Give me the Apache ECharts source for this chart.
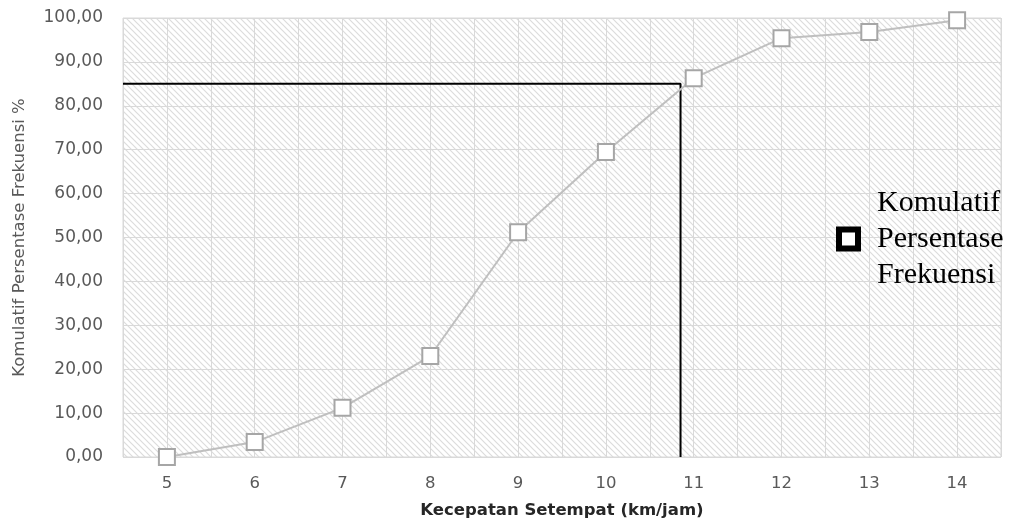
<!DOCTYPE html>
<html>
<head>
<meta charset="utf-8">
<script src="https://cdn.jsdelivr.net/npm/echarts@6/dist/echarts.min.js"></script>
<style>
  html, body { margin: 0; padding: 0; background: #fff; }
  #chart { width: 1018px; height: 526px; }
</style>
</head>
<body>
<div id="chart"></div>
<script>
// kecepatan setempat (km/jam)
var kecepatan = [5, 6, 7, 8, 9, 10, 11, 12, 13, 14];
// komulatif persentase frekuensi (%)
var komulatif = [0, 3.4, 11.2, 23.0, 51.2, 69.5, 86.3, 95.4, 96.8, 99.5];
// garis persentil 85
var garisP85 = [[4.5, 85], [10.85, 85], [10.85, 0]];
var yTicks = [0, 10, 20, 30, 40, 50, 60, 70, 80, 90, 100];

// pola arsir diagonal untuk latar plot
function buatArsir() {
    var c = document.createElement('canvas');
    c.width = 6;
    c.height = 6;
    var ctx = c.getContext('2d');
    ctx.fillStyle = '#ffffff';
    ctx.fillRect(0, 0, 6, 6);
    ctx.strokeStyle = '#dcdcdc';
    ctx.lineWidth = 1.2;
    ctx.beginPath();
    ctx.moveTo(-1, -1); ctx.lineTo(7, 7);
    ctx.moveTo(-1, 5); ctx.lineTo(1, 7);
    ctx.moveTo(5, -1); ctx.lineTo(7, 1);
    ctx.stroke();
    return c;
}

var namaSeri = 'Komulatif\nPersentase\nFrekuensi';
var chart = echarts.init(document.getElementById('chart'));

var option = {
    animation: false,
    grid: {
        left: 123,
        right: 17,
        top: 18,
        bottom: 69,
        show: true,
        backgroundColor: { image: buatArsir(), repeat: 'repeat' },
        borderColor: '#d9d9d9',
        borderWidth: 1
    },
    legend: {
        left: 831,
        top: 180,
        orient: 'vertical',
        icon: 'rect',
        itemWidth: 19,
        itemHeight: 19,
        data: [{
            name: namaSeri,
            itemStyle: { color: '#ffffff', borderColor: '#000000', borderWidth: 6 }
        }],
        textStyle: {
            fontFamily: 'Liberation Serif',
            fontSize: 30,
            lineHeight: 36,
            color: '#000',
            padding: [0, 0, 0, 14]
        }
    },
    xAxis: {
        type: 'value',
        min: 4.5,
        max: 14.5,
        interval: 0.5,
        name: 'Kecepatan Setempat (km/jam)',
        nameLocation: 'middle',
        nameGap: 45,
        nameTextStyle: {
            fontFamily: 'DejaVu Sans',
            fontWeight: 'bold',
            fontSize: 16.5,
            color: '#262626'
        },
        axisLine: { show: false },
        axisTick: { show: false },
        axisLabel: {
            margin: 18,
            fontFamily: 'DejaVu Sans',
            fontSize: 16.5,
            color: '#595959',
            formatter: function (v) {
                return kecepatan.indexOf(v) >= 0 ? String(v) : '';
            }
        },
        splitLine: { show: true, lineStyle: { color: '#d9d9d9', width: 1 } }
    },
    yAxis: {
        type: 'value',
        min: yTicks[0],
        max: yTicks[yTicks.length - 1],
        interval: 10,
        name: 'Komulatif Persentase Frekuensi %',
        nameLocation: 'middle',
        nameGap: 95,
        nameTextStyle: {
            fontFamily: 'DejaVu Sans',
            fontSize: 16.5,
            color: '#595959'
        },
        axisLine: { show: false },
        axisTick: { show: false },
        axisLabel: {
            margin: 20,
            fontFamily: 'DejaVu Sans',
            fontSize: 17,
            color: '#595959',
            formatter: function (v) {
                return v.toFixed(2).replace('.', ',');
            }
        },
        splitLine: { show: true, lineStyle: { color: '#d9d9d9', width: 1 } }
    },
    series: [{
        name: 'p85',
        type: 'line',
        data: garisP85,
        symbol: 'none',
        silent: true,
        lineStyle: { color: '#000000', width: 2 },
        z: 3
    }, {
        name: namaSeri,
        type: 'line',
        data: kecepatan.map(function (k, i) { return [k, komulatif[i]]; }),
        symbol: 'rect',
        symbolSize: 16,
        lineStyle: { color: '#bfbfbf', width: 2 },
        itemStyle: { color: '#ffffff', borderColor: '#a6a6a6', borderWidth: 2 },
        z: 4
    }]
};

chart.setOption(option);
</script>
</body>
</html>
